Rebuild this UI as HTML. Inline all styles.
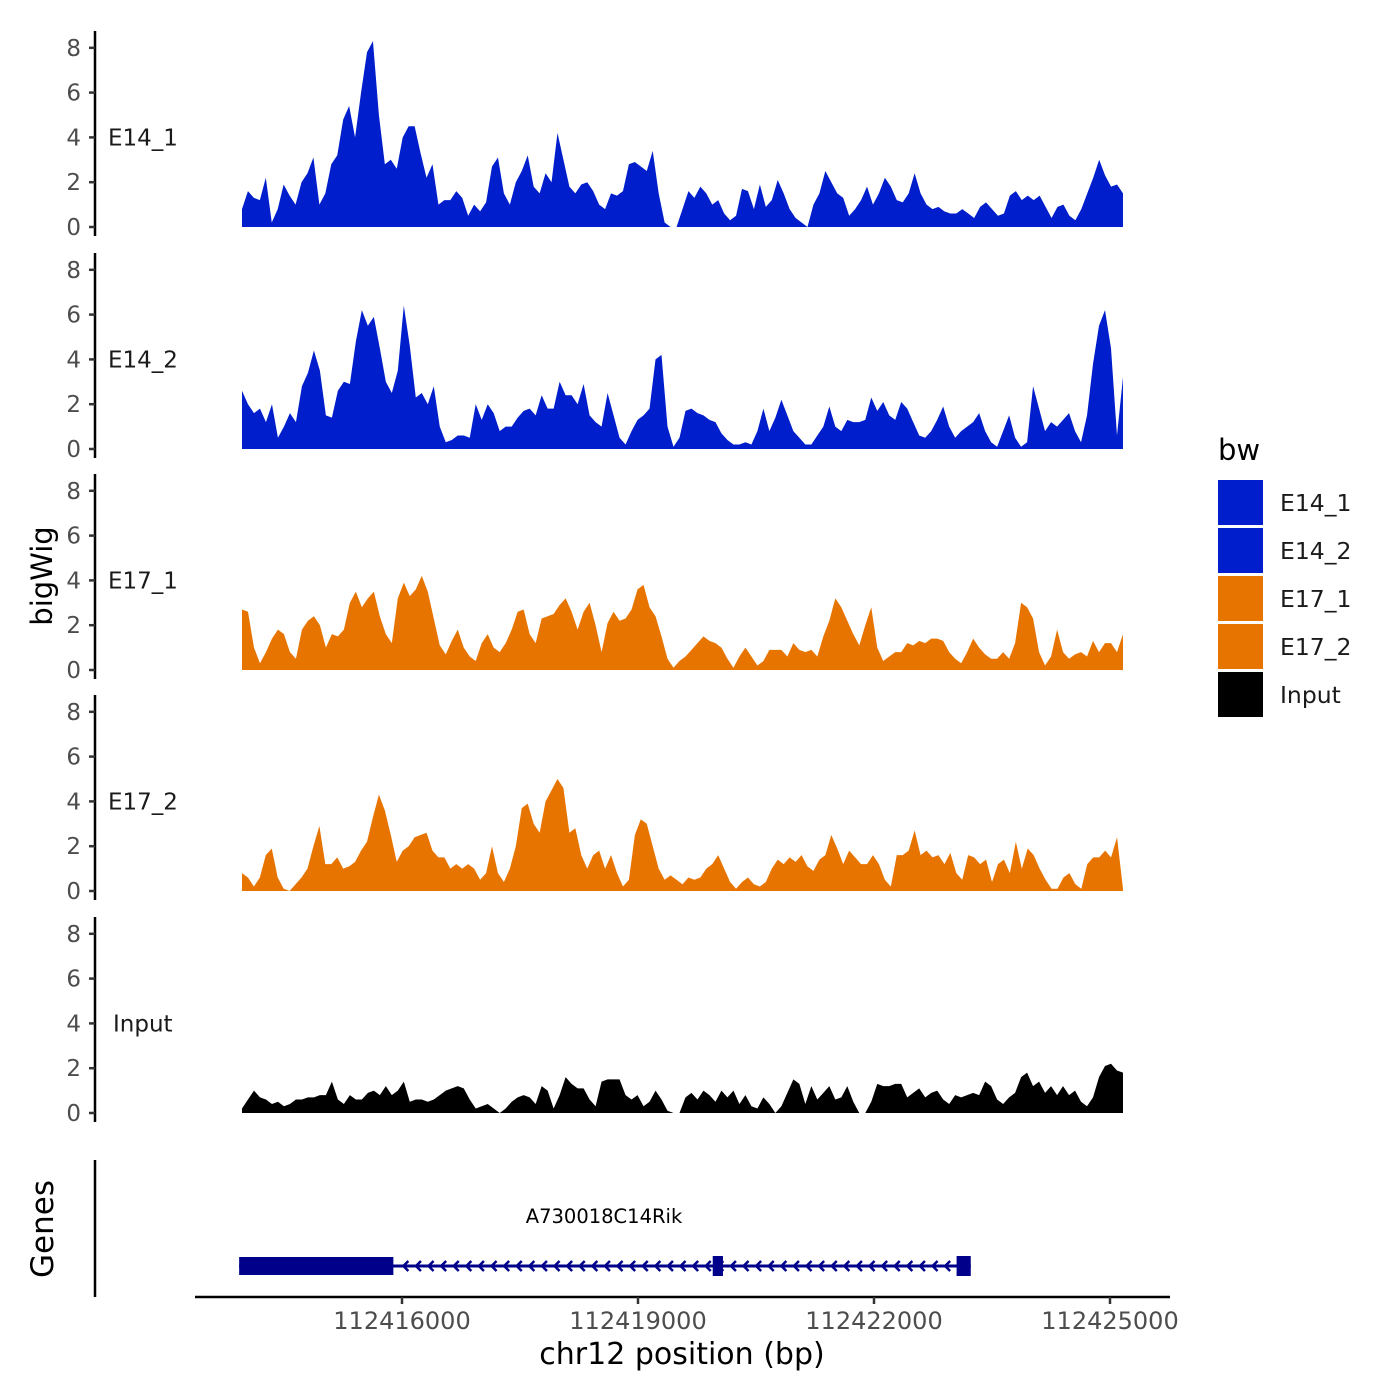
<!DOCTYPE html>
<html><head><meta charset="utf-8">
<style>
html,body{margin:0;padding:0;background:#fff;width:1400px;height:1400px;overflow:hidden}
svg text{font-family:"DejaVu Sans","Liberation Sans",sans-serif}
</style></head>
<body>
<svg id="chart" width="1400" height="1400" xmlns="http://www.w3.org/2000/svg">
<rect width="1400" height="1400" fill="#fff"/>
</svg>
<script>
const trackNames = ["E14_1","E14_2","E17_1","E17_2","Input"];
const trackColors = ["#001ECC","#001ECC","#E87400","#E87400","#000000"];
const bpStart = 112413966, bpEnd = 112425165;
const yTicks = [0,2,4,6,8];
const xTicks = [112416000,112419000,112422000,112425000];
const xTickLabels = ["112416000","112419000","112422000","112425000"];
const e14_1 = [0.8,1.6,1.3,1.2,2.2,0.2,0.8,1.9,1.4,1.0,2.0,2.4,3.1,1.0,1.5,2.8,3.2,4.8,5.4,4.0,6.0,7.8,8.3,5.0,2.8,3.0,2.6,4.0,4.5,4.5,3.3,2.2,2.8,1.0,1.2,1.2,1.6,1.3,0.5,1.0,0.7,1.1,2.7,3.1,1.5,1.0,2.0,2.5,3.2,1.8,1.5,2.4,2.0,4.2,3.0,1.8,1.5,1.9,2.0,1.6,1.0,0.8,1.5,1.4,1.6,2.8,2.9,2.7,2.5,3.4,1.5,0.2,0,0,0.8,1.6,1.3,1.8,1.5,1.0,1.2,0.6,0.3,0.5,1.7,1.6,0.8,1.9,0.9,1.2,2.1,1.5,0.8,0.4,0.2,0,1.0,1.5,2.5,2.0,1.5,1.3,0.5,0.8,1.2,1.8,1.0,1.5,2.2,1.8,1.2,1.1,1.5,2.4,1.5,1.0,0.8,0.9,0.7,0.6,0.6,0.8,0.6,0.4,0.9,1.1,0.8,0.5,0.6,1.4,1.6,1.2,1.4,1.2,1.4,0.9,0.4,0.9,1.0,0.5,0.3,0.8,1.5,2.2,3.0,2.3,1.8,1.9,1.5];
const e14_2 = [2.6,2.0,1.6,1.8,1.2,2.0,0.5,1.0,1.6,1.2,2.8,3.4,4.4,3.5,1.5,1.4,2.6,3.0,2.9,4.8,6.2,5.5,5.9,4.5,3.0,2.5,3.5,6.4,4.6,2.3,2.5,2.0,2.8,1.0,0.3,0.4,0.6,0.6,0.5,2.0,1.3,2.0,1.6,0.8,1.0,1.0,1.4,1.7,1.8,1.5,2.4,1.8,1.8,3.0,2.4,2.4,2.0,2.9,1.5,1.2,1.0,2.5,1.5,0.5,0.2,0.8,1.3,1.5,1.8,4.0,4.2,1.0,0.1,0.5,1.7,1.8,1.6,1.5,1.3,1.2,0.7,0.4,0.2,0.2,0.3,0.2,0.8,1.8,0.8,1.4,2.2,1.5,0.8,0.5,0.2,0.2,0.6,1.0,1.9,1.0,0.8,1.3,1.2,1.2,1.3,2.3,1.7,2.1,1.5,1.3,2.1,1.8,1.2,0.6,0.5,0.8,1.3,1.9,1.0,0.5,0.8,1.0,1.2,1.6,0.8,0.3,0.1,0.8,1.5,0.5,0.1,0.3,2.8,1.8,0.8,1.2,1.0,1.3,1.6,0.8,0.3,1.5,3.8,5.5,6.2,4.5,0.6,3.2];
const e17_1 = [2.7,2.6,1.0,0.3,0.8,1.4,1.8,1.6,0.8,0.5,1.8,2.2,2.4,2.0,1.0,1.6,1.5,1.8,3.0,3.5,2.8,3.2,3.5,2.4,1.6,1.2,3.2,3.9,3.3,3.6,4.2,3.5,2.3,1.1,0.7,1.3,1.8,1.0,0.6,0.4,1.2,1.6,1.0,0.8,1.2,1.8,2.6,2.7,1.6,1.2,2.3,2.4,2.5,2.9,3.2,2.6,1.8,2.6,3.0,2.0,0.8,2.1,2.6,2.2,2.3,2.7,3.6,3.8,2.8,2.4,1.5,0.5,0.1,0.4,0.6,0.9,1.2,1.5,1.3,1.2,1.0,0.5,0.1,0.6,1.0,0.6,0.2,0.4,0.9,0.9,0.9,0.6,1.2,0.9,0.8,0.9,0.6,1.5,2.2,3.2,2.8,2.2,1.6,1.1,2.0,2.8,1.0,0.4,0.6,0.8,0.8,1.2,1.1,1.3,1.2,1.4,1.4,1.3,0.8,0.5,0.3,0.8,1.4,1.0,0.7,0.5,0.5,0.8,0.5,1.2,3.0,2.8,2.3,0.8,0.2,0.6,1.8,0.8,0.5,0.7,0.8,0.6,1.3,0.8,1.2,1.2,0.8,1.6];
const e17_2 = [0.8,0.6,0.2,0.6,1.6,1.9,0.6,0.1,0.0,0.3,0.6,1.0,2.0,2.9,1.2,1.2,1.5,1.0,1.1,1.3,1.8,2.2,3.3,4.3,3.6,2.5,1.3,1.8,2.0,2.4,2.5,2.6,1.8,1.5,1.5,1.0,1.2,1.0,1.2,1.0,0.5,0.8,2.0,0.8,0.4,1.0,2.0,3.7,3.9,3.0,2.6,4.0,4.5,5.0,4.6,2.6,2.8,1.6,1.0,1.6,1.8,1.0,1.6,0.8,0.2,0.5,2.5,3.2,3.0,2.0,1.0,0.5,0.7,0.5,0.3,0.6,0.5,0.6,1.0,1.2,1.6,1.0,0.4,0.1,0.4,0.6,0.3,0.2,0.4,1.0,1.4,1.2,1.5,1.3,1.6,1.1,0.9,1.4,1.6,2.5,1.9,1.2,1.8,1.5,1.2,1.2,1.6,1.2,0.5,0.2,1.6,1.6,1.8,2.7,1.6,1.8,1.5,1.6,1.2,1.7,0.8,0.5,1.6,1.5,1.2,1.4,0.4,1.2,1.4,0.8,2.2,1.0,1.9,1.6,1.0,0.5,0.1,0.1,0.6,0.8,0.3,0.1,1.2,1.5,1.5,1.8,1.5,2.4,0.1];
const input = [0.2,0.6,1.0,0.7,0.6,0.4,0.5,0.3,0.4,0.6,0.6,0.7,0.7,0.8,0.8,1.4,0.6,0.4,0.8,0.6,0.6,0.9,1.0,0.8,1.2,0.8,1.0,1.4,0.5,0.6,0.6,0.5,0.6,0.8,1.0,1.1,1.2,1.1,0.6,0.2,0.3,0.4,0.2,0.0,0.2,0.5,0.7,0.8,0.7,0.4,1.2,1.0,0.2,0.8,1.6,1.3,1.1,1.1,0.6,0.3,1.4,1.5,1.5,1.5,0.8,0.6,0.8,0.3,0.5,1.0,0.6,0.1,0.0,0.0,0.7,0.9,0.6,1.0,0.8,0.5,1.0,0.7,1.0,0.4,0.8,0.3,0.2,0.7,0.4,0.0,0.3,0.9,1.5,1.3,0.4,1.2,0.6,0.9,1.2,0.6,0.7,1.2,0.5,0.0,0.0,0.5,1.3,1.2,1.2,1.3,1.3,0.7,0.9,1.1,0.7,0.9,1.0,0.6,0.4,0.8,0.7,0.8,0.9,0.8,1.4,1.2,0.6,0.4,0.7,0.9,1.6,1.8,1.2,1.4,0.9,1.2,0.8,1.2,0.8,1.0,0.5,0.3,0.7,1.6,2.1,2.2,1.9,1.8];
const trackValues = [e14_1,e14_2,e17_1,e17_2,input];
const geneName = "A730018C14Rik";
const geneStart = 112413930, geneEnd = 112423230;
const exonStarts = [112413930,112419950,112423050];
const exonEnds = [112415890,112420080,112423230];

const NS="http://www.w3.org/2000/svg";
const svg=document.getElementById('chart');
function el(tag,attrs,parent){const e=document.createElementNS(NS,tag);for(const k in attrs)e.setAttribute(k,attrs[k]);(parent||svg).appendChild(e);return e;}
const X0=402, PXPERBP=236/3000;
function xScale(bp){return X0+(bp-112416000)*PXPERBP;}
const panelBase=[227,449,670,891,1113];
const UNIT=22.4;

trackNames.forEach((name,t)=>{
  const base=panelBase[t];
  const yS=v=>base-v*UNIT;
  const g=el('g',{});
  
  
  const ax=el('line',{x1:95,x2:95,y1:base-196,y2:base+9,stroke:'#000','stroke-width':2.5},g);
  
  
  yTicks.forEach(v=>{
    el('line',{x1:89,x2:95,y1:yS(v),y2:yS(v),stroke:'#333','stroke-width':2.5},g);
    const tx=el('text',{x:81,y:yS(v)+8,'text-anchor':'end','font-size':23,fill:'#4d4d4d'},g);
    tx.textContent=v;
    
    
  });
  const lab=el('text',{x:name==='Input'?113:108,y:yS(4)+8,'font-size':23,fill:'#1a1a1a'},g);
  lab.textContent=name;
  
  
  const vals=trackValues[t];
  const n=vals.length, step=(bpEnd-bpStart)/(n-1);
  let d='M'+xScale(bpStart)+','+base;
  vals.forEach((v,i)=>{d+=' L'+xScale(bpStart+i*step).toFixed(2)+','+yS(v).toFixed(2);});
  d+=' L'+xScale(bpEnd)+','+base+' Z';
  const area=el('path',{d:d,fill:trackColors[t],stroke:'none'},g);
  
  
});

// y title
const yt=el('text',{x:0,y:0,'font-size':29,'text-anchor':'middle',transform:'translate(52,576) rotate(-90)'});
yt.textContent='bigWig';



// genes track
const gg=el('g',{});


const gax=el('line',{x1:95,x2:95,y1:1160,y2:1297,stroke:'#000','stroke-width':2.5},gg);


const gt=el('text',{x:0,y:0,'font-size':31,'text-anchor':'middle',transform:'translate(53,1229) rotate(-90)'},gg);
gt.textContent='Genes';


const GY=1266;
el('line',{x1:xScale(geneStart),x2:xScale(geneEnd),y1:GY,y2:GY,stroke:'#00008B','stroke-width':3},gg);
for(let x=xScale(exonEnds[0])+12;x<xScale(geneEnd)-4;x+=12.6){
  el('polyline',{points:(x+3)+','+(GY-5)+' '+(x-2)+','+GY+' '+(x+3)+','+(GY+5),fill:'none',stroke:'#00008B','stroke-width':2.5},gg);
}
exonStarts.forEach((s,i)=>{
  const h=i===0?18:20;
  const r=el('rect',{x:xScale(s),y:GY-h/2,width:xScale(exonEnds[i])-xScale(s),height:h,fill:'#00008B'},gg);
  
  
});
const gl=el('text',{x:604,y:1223,'font-size':19.5,'text-anchor':'middle',fill:'#000'},gg);
gl.textContent=geneName;



// x axis
const xa=el('line',{x1:195,x2:1170,y1:1297,y2:1297,stroke:'#000','stroke-width':2.5});


xTicks.forEach((b,i)=>{
  el('line',{x1:xScale(b),x2:xScale(b),y1:1297,y2:1304,stroke:'#333','stroke-width':2.5});
  const t=el('text',{x:xScale(b),y:1329,'font-size':24,'text-anchor':'middle',fill:'#4d4d4d'});
  t.textContent=xTickLabels[i];
  
  
});
const xt=el('text',{x:682,y:1364,'font-size':30,'text-anchor':'middle'});
xt.textContent='chr12 position (bp)';



// legend
const lg=el('g',{});


const ltt=el('text',{x:1218,y:460,'font-size':29},lg);
ltt.textContent='bw';


trackNames.forEach((name,i)=>{
  const y=480+i*48;
  const r=el('rect',{x:1218,y:y,width:45,height:45,fill:trackColors[i]},lg);
  
  
  const t=el('text',{x:1280,y:y+31,'font-size':23.5,fill:'#1a1a1a'},lg);
  t.textContent=name;
  
  
});
</script>
</body></html>
